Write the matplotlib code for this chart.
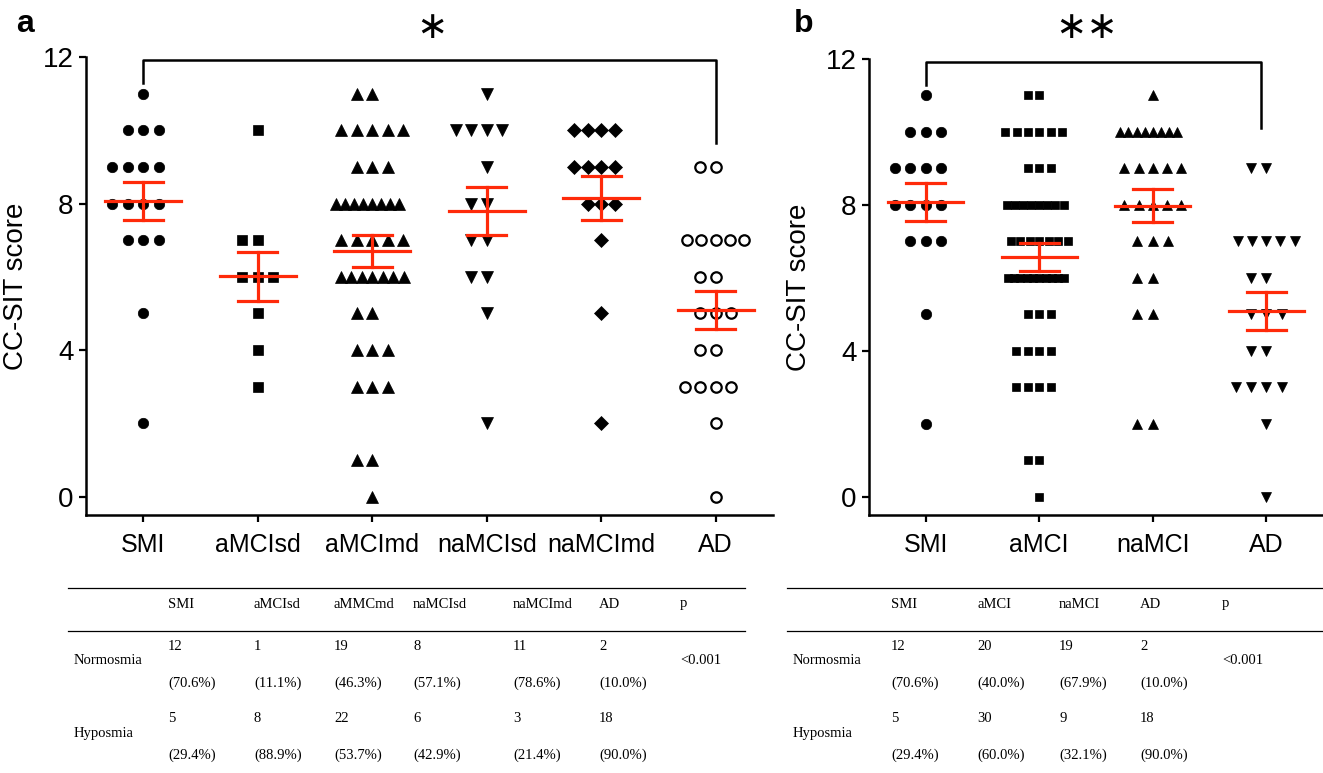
import numpy as np
import matplotlib
matplotlib.use("Agg")
import matplotlib.pyplot as plt
from matplotlib.lines import Line2D

plt.rcParams['font.family'] = ['Liberation Sans', 'DejaVu Sans']

# panel a: CC-SIT scores per group
groups_a = ['SMI', 'aMCIsd', 'aMCImd', 'naMCIsd', 'naMCImd', 'AD']
smi = [11, 10, 10, 10, 9, 9, 9, 9, 8, 8, 8, 8, 7, 7, 7, 5, 2]
amcisd = [10, 7, 7, 6, 6, 6, 5, 4, 3]
amcimd = [11, 11, 10, 10, 10, 10, 10, 9, 9, 9, 8, 8, 8, 8, 8, 8, 8, 8,
          7, 7, 7, 7, 7, 6, 6, 6, 6, 6, 6, 6, 5, 5, 4, 4, 4, 3, 3, 3, 1, 1, 0]
namcisd = [11, 10, 10, 10, 10, 9, 8, 8, 7, 7, 6, 6, 5, 2]
namcimd = [10, 10, 10, 10, 9, 9, 9, 9, 8, 8, 8, 7, 5, 2]
ad = [9, 9, 7, 7, 7, 7, 7, 6, 6, 5, 5, 5, 4, 4, 3, 3, 3, 3, 2, 0]
mean_a = [8.07, 6.01, 6.71, 7.80, 8.15, 5.10]
sem_a = [0.51, 0.66, 0.43, 0.66, 0.60, 0.52]

# panel b
groups_b = ['SMI', 'aMCI', 'naMCI', 'AD']
amci = [11, 11, 10, 10, 10, 10, 10, 10, 9, 9, 9, 8, 8, 8, 8, 8, 8, 8, 8,
        7, 7, 7, 7, 7, 7, 7, 6, 6, 6, 6, 6, 6, 6, 6, 6, 6, 5, 5, 5,
        4, 4, 4, 4, 3, 3, 3, 3, 1, 1, 0]
namci = [11, 10, 10, 10, 10, 10, 10, 10, 10, 9, 9, 9, 9, 9, 8, 8, 8, 8, 8,
         7, 7, 7, 6, 6, 5, 5, 2, 2]
mean_b = [8.07, 6.58, 7.98, 5.10]
sem_b = [0.52, 0.38, 0.45, 0.52]

# tables
tab_a_cols = ['SMI', 'aMCIsd', 'aMMCmd', 'naMCIsd', 'naMCImd', 'AD', 'p']
norm_a = [12, 1, 19, 8, 11, 2]
norm_a_pct = ['70.6', '11.1', '46.3', '57.1', '78.6', '10.0']
hypo_a = [5, 8, 22, 6, 3, 18]
hypo_a_pct = ['29.4', '88.9', '53.7', '42.9', '21.4', '90.0']
tab_b_cols = ['SMI', 'aMCI', 'naMCI', 'AD', 'p']
norm_b = [12, 20, 19, 2]
norm_b_pct = ['70.6', '40.0', '67.9', '10.0']
hypo_b = [5, 30, 9, 18]
hypo_b_pct = ['29.4', '60.0', '32.1', '90.0']
pval = '<0.001'

W, H = 1323, 773
RED = '#ff2a0a'


def spread(vals, sp, maxw):
    vals = np.asarray(vals)
    xs = np.zeros(len(vals), float)
    for v in np.unique(vals):
        idx = np.where(vals == v)[0]
        n = len(idx)
        order = [0]
        k = 1
        while len(order) < n:
            order.append(-k)
            if len(order) < n:
                order.append(k)
            k += 1
        pos = np.array(sorted(order), float)
        step = sp
        w = pos.max() - pos.min()
        if w > 0 and w * sp > maxw:
            step = maxw / w
        xs[idx] = pos * step
    return xs


def draw_group(ax, i, vals, m, s, marker, ms, filled=True, sp=0.135, maxw=0.5):
    dx = spread(vals, sp, maxw)
    if filled:
        ax.plot(i + dx, vals, linestyle='none', marker=marker, ms=ms,
                mfc='black', mec='black', mew=0.5, clip_on=False, zorder=3)
    else:
        ax.plot(i + dx, vals, linestyle='none', marker=marker, ms=ms,
                mfc='white', mec='black', mew=1.6, clip_on=False, zorder=3)
    ax.plot([i - 0.33, i + 0.33], [m, m], color=RED, lw=2.3, zorder=4)
    ax.plot([i, i], [m - s, m + s], color=RED, lw=2.3, zorder=4)
    for y in (m - s, m + s):
        ax.plot([i - 0.17, i + 0.17], [y, y], color=RED, lw=2.3, zorder=4)


def style(ax, labels):
    ax.set_ylim(-0.5, 12)
    ax.set_xlim(-0.5, len(labels) - 0.5)
    ax.set_yticks([0, 4, 8, 12])
    ax.set_xticks(range(len(labels)))
    ax.set_xticklabels(labels)
    for sp_ in ('top', 'right'):
        ax.spines[sp_].set_visible(False)
    ax.spines['left'].set_bounds(-0.5, 12)
    for sp_ in ('left', 'bottom'):
        ax.spines[sp_].set_linewidth(1.8)
    ax.tick_params(direction='out', length=5, width=1.6, labelsize=20, pad=4)
    ax.tick_params(axis='x', pad=8, labelsize=18)
    ax.set_ylabel('CC-SIT score', fontsize=20, labelpad=10)


fig = plt.figure(figsize=(W / 100, H / 100), dpi=100)

ax1 = fig.add_axes([86 / W, 1 - 515 / H, (773 - 86) / W, (515 - 57) / H])
draw_group(ax1, 0, smi, mean_a[0], sem_a[0], 'o', 7.5)
draw_group(ax1, 1, amcisd, mean_a[1], sem_a[1], 's', 7.5)
draw_group(ax1, 2, amcimd, mean_a[2], sem_a[2], '^', 8.5, maxw=0.55)
draw_group(ax1, 3, namcisd, mean_a[3], sem_a[3], 'v', 8.5)
draw_group(ax1, 4, namcimd, mean_a[4], sem_a[4], 'D', 7, sp=0.12)
draw_group(ax1, 5, ad, mean_a[5], sem_a[5], 'o', 7.5, filled=False)
style(ax1, groups_a)
ax1.plot([0, 0, 5, 5], [11.3, 11.92, 11.92, 9.65], color='black', lw=1.8, clip_on=False)
ax1.text(2.52, 12.8, '\u2217', fontsize=27, ha='center', va='center', family='DejaVu Sans')

ax2 = fig.add_axes([869 / W, 1 - 515 / H, (W - 869) / W, (515 - 59) / H])
draw_group(ax2, 0, smi, mean_b[0], sem_b[0], 'o', 7.5)
draw_group(ax2, 1, amci, mean_b[1], sem_b[1], 's', 6.3, sp=0.103, maxw=0.5)
draw_group(ax2, 2, namci, mean_b[2], sem_b[2], '^', 7.5, maxw=0.5)
draw_group(ax2, 3, ad, mean_b[3], sem_b[3], 'v', 7.5)
style(ax2, groups_b)
ax2.plot([0, 0, 2.95, 2.95], [11.3, 11.92, 11.92, 10.1], color='black', lw=1.8, clip_on=False)
ax2.text(1.42, 12.85, '\u2217\u2217', fontsize=27, ha='center', va='center', family='DejaVu Sans')

fig.text(16 / W, 1 - 24 / H, 'a', fontsize=23, fontweight='bold', va='center')
fig.text(794 / W, 1 - 24 / H, 'b', fontsize=23, fontweight='bold', va='center')


def table(x0, x1, label_x, col_x, cols, norm, norm_pct, hypo, hypo_pct):
    for y in (588, 631):
        fig.add_artist(Line2D([x0 / W, x1 / W], [1 - y / H, 1 - y / H], color='black', lw=0.9))
    kw = dict(fontsize=10.5, family='Liberation Serif', va='center', ha='left')
    for c, x in zip(cols, col_x):
        fig.text(x / W, 1 - 604 / H, c, **kw)
    fig.text(label_x / W, 1 - 661 / H, 'Normosmia', **kw)
    fig.text(label_x / W, 1 - 733 / H, 'Hyposmia', **kw)
    for j in range(len(norm)):
        x = col_x[j] / W
        fig.text(x, 1 - 646 / H, str(norm[j]), **kw)
        fig.text(x, 1 - 683 / H, '(' + norm_pct[j] + '%)', **kw)
        fig.text(x, 1 - 719 / H, str(hypo[j]), **kw)
        fig.text(x, 1 - 755 / H, '(' + hypo_pct[j] + '%)', **kw)
    fig.text(col_x[-1] / W, 1 - 661 / H, pval, **kw)


table(68, 745, 74, [168, 254, 334, 413, 513, 599, 680], tab_a_cols,
      norm_a, norm_a_pct, hypo_a, hypo_a_pct)
table(787, 1323, 793, [891, 977, 1059, 1140, 1222], tab_b_cols,
      norm_b, norm_b_pct, hypo_b, hypo_b_pct)

fig.savefig('out.png', dpi=100)
